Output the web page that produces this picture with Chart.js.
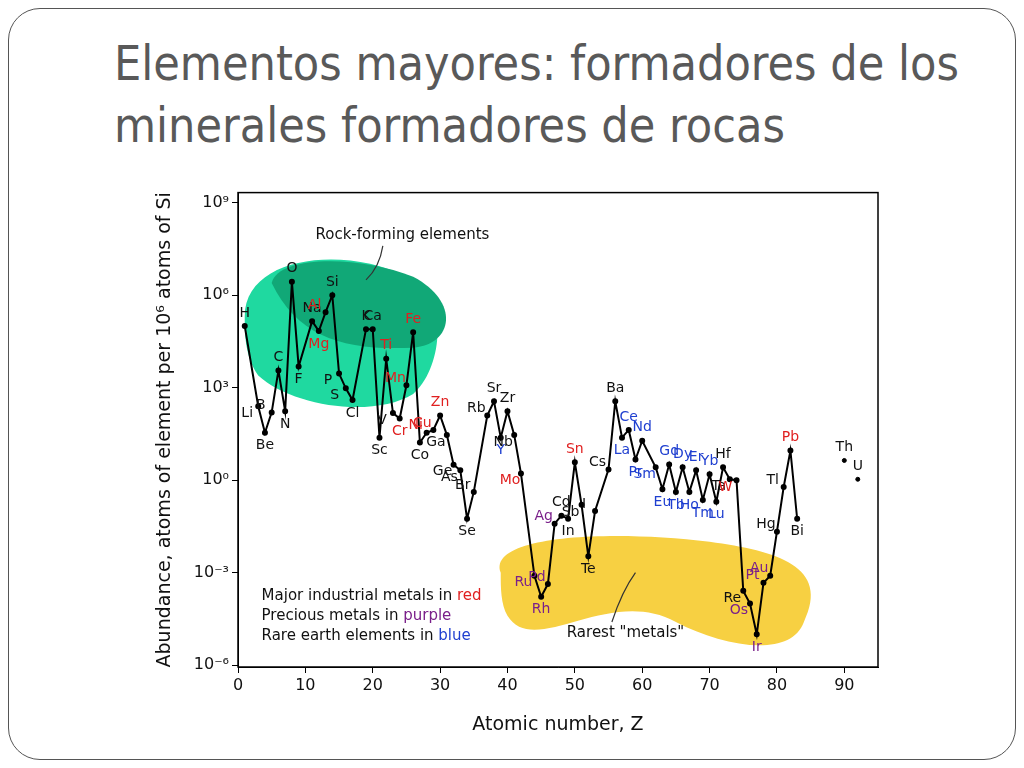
<!DOCTYPE html>
<html>
<head>
<meta charset="utf-8">
<script src="https://cdn.jsdelivr.net/npm/chart.js@4"></script>
<style>
  body { margin: 0; width: 1024px; height: 768px; background: #fff; position: relative; overflow: hidden; }
  #slide { position: absolute; left: 8px; top: 8px; width: 1006px; height: 750px; border: 1.5px solid #555; border-radius: 32px; }
  #title { position: absolute; left: 114px; top: 32px; font-family: "Liberation Sans Narrow", "DejaVu Sans Condensed", sans-serif; font-size: 48px; line-height: 62px; color: #595959; }
  #wrap { position: absolute; left: 150px; top: 180px; width: 740px; height: 560px; }
</style>
</head>
<body>
<div id="slide"></div>
<div id="title">Elementos mayores: formadores de los<br>minerales formadores de rocas</div>
<div id="wrap"><canvas id="grafico"></canvas></div>
<script>
// Dados (log10 da abundância por 10^6 átomos de Si)
const simbolos = ["H","Li","Be","B","C","N","O","F","Na","Mg","Al","Si","P","S","Cl","K","Ca","Sc","Ti","V","Cr","Mn","Fe","Co","Ni","Cu","Zn","Ga","Ge","As","Se","Br","Rb","Sr","Y","Zr","Nb","Mo","Ru","Rh","Pd","Ag","Cd","In","Sn","Sb","Te","I","Cs","Ba","La","Ce","Pr","Nd","Sm","Eu","Gd","Tb","Dy","Ho","Er","Tm","Yb","Lu","Hf","Ta","W","Re","Os","Ir","Pt","Au","Hg","Tl","Pb","Bi"];
const numeroZ = [1,3,4,5,6,7,8,9,11,12,13,14,15,16,17,19,20,21,22,23,24,25,26,27,28,29,30,31,32,33,34,35,37,38,39,40,41,42,44,45,46,47,48,49,50,51,52,53,55,56,57,58,59,60,62,63,64,65,66,67,68,69,70,71,72,73,74,75,76,77,78,79,80,81,82,83];
const logAbund = [5.0,2.4,1.54,2.2,3.56,2.24,6.44,3.69,5.16,4.84,5.45,6.0,3.46,2.98,2.6,4.9,4.9,1.38,3.94,2.18,2.0,3.08,4.8,1.22,1.54,1.63,2.1,1.47,0.5,0.32,-1.25,-0.38,2.1,2.56,1.38,2.24,1.47,0.22,-3.1,-3.78,-3.37,-1.41,-1.15,-1.25,0.58,-0.8,-2.47,-1.0,0.35,2.56,1.38,1.63,0.67,1.28,0.42,-0.29,0.51,-0.38,0.42,-0.38,0.32,-0.64,0.19,-0.7,0.42,0.03,0.0,-3.59,-4.0,-5.0,-3.33,-3.1,-1.67,-0.22,0.96,-1.25];
const simbolosSep = ["Th","U"];
const zSep = [90,92];
const logSep = [0.64,0.03];
const yTicks = [-6,-3,0,3,6,9];
const xTicks = [0,10,20,30,40,50,60,70,80,90];

const vermelhos = ["Mg","Al","Ti","Cr","Mn","Fe","Ni","Cu","Zn","Mo","Sn","W","Pb"];
const roxos = ["Ru","Rh","Pd","Ag","Os","Ir","Pt","Au"];
const azuis = ["Y","La","Ce","Pr","Nd","Sm","Eu","Gd","Tb","Dy","Ho","Er","Tm","Yb","Lu"];
function corDe(s) {
  if (vermelhos.includes(s)) return "#e02020";
  if (roxos.includes(s)) return "#7a1f8a";
  if (azuis.includes(s)) return "#1f3fd0";
  return "#111";
}
const sup = {"-":"⁻","0":"⁰","3":"³","6":"⁶","9":"⁹"};
function potencia(v) { return "10" + String(v).split("").map(c => sup[c]).join(""); }

// Manchas de fundo e textos
const fundo = {
  id: "fundo",
  beforeDatasetsDraw(chart) {
    const {ctx, scales: {x, y}} = chart;
    const P = (a, b) => [x.getPixelForValue(a), y.getPixelForValue(b)];
    ctx.save();
    // verde claro
    ctx.fillStyle = "#1fd9a0";
    ctx.beginPath();
    let p = P(1, 5.3); ctx.moveTo(...p);
    ctx.bezierCurveTo(...P(1, 7.3), ...P(16, 7.6), ...P(25, 6.6));
    ctx.bezierCurveTo(...P(32, 5.9), ...P(30, 3.5), ...P(26, 2.8));
    ctx.bezierCurveTo(...P(20, 2.0), ...P(8, 2.4), ...P(3, 3.4));
    ctx.bezierCurveTo(...P(1, 4.0), ...P(1, 4.8), ...p);
    ctx.fill();
    // verde escuro
    ctx.fillStyle = "#11a877";
    ctx.beginPath();
    p = P(5, 6.4); ctx.moveTo(...p);
    ctx.bezierCurveTo(...P(6, 7.3), ...P(18, 7.3), ...P(26, 6.6));
    ctx.bezierCurveTo(...P(33, 5.8), ...P(32, 4.4), ...P(26, 4.3));
    ctx.bezierCurveTo(...P(16, 4.2), ...P(9, 4.6), ...p);
    ctx.fill();
    // amarelo
    ctx.fillStyle = "#f7d042";
    ctx.beginPath();
    p = P(39, -3.0); ctx.moveTo(...p);
    ctx.bezierCurveTo(...P(37, -1.8), ...P(55, -1.6), ...P(70, -2.0));
    ctx.bezierCurveTo(...P(80, -2.3), ...P(88, -2.8), ...P(84, -4.6));
    ctx.bezierCurveTo(...P(82, -5.8), ...P(72, -5.4), ...P(65, -4.6));
    ctx.bezierCurveTo(...P(55, -3.4), ...P(44, -5.8), ...P(40, -4.4));
    ctx.bezierCurveTo(...P(39, -4.0), ...P(39, -3.5), ...p);
    ctx.fill();
    // textos
    ctx.fillStyle = "#111";
    ctx.font = "15px 'DejaVu Sans'";
    ctx.textAlign = "left";
    ctx.textBaseline = "middle";
    ctx.fillText("Rock-forming elements", ...P(11.5, 7.95));
    ctx.fillText('Rarest "metals"', ...P(48.8, -4.95));
    ctx.fillText("Major industrial metals in ", ...P(3.5, -3.75));
    ctx.fillText("Precious metals in ", ...P(3.5, -4.4));
    ctx.fillText("Rare earth elements in ", ...P(3.5, -5.05));
    ctx.fillStyle = "#e02020"; ctx.fillText("red", P(3.5, 0)[0] + ctx.measureText("Major industrial metals in ").width, P(0, -3.75)[1]);
    ctx.fillStyle = "#7a1f8a"; ctx.fillText("purple", P(3.5, 0)[0] + ctx.measureText("Precious metals in ").width, P(0, -4.4)[1]);
    ctx.fillStyle = "#1f3fd0"; ctx.fillText("blue", P(3.5, 0)[0] + ctx.measureText("Rare earth elements in ").width, P(0, -5.05)[1]);
    // setas
    ctx.strokeStyle = "#333"; ctx.lineWidth = 1.2;
    ctx.beginPath(); ctx.moveTo(...P(21.5, 7.6)); ctx.quadraticCurveTo(...P(21, 6.9), ...P(19, 6.5)); ctx.stroke();
    ctx.beginPath(); ctx.moveTo(...P(55.5, -4.6)); ctx.quadraticCurveTo(...P(57, -3.6), ...P(59, -3.0)); ctx.stroke();
    ctx.restore();
  },
  afterDatasetsDraw(chart) {
    const {ctx, chartArea: a, scales: {x, y}} = chart;
    ctx.save();
    ctx.strokeStyle = "#000"; ctx.lineWidth = 1.5;
    ctx.strokeRect(a.left, a.top, a.right - a.left, a.bottom - a.top);
    // rótulos dos elementos
    ctx.font = "14px 'DejaVu Sans'";
    ctx.textAlign = "center"; ctx.textBaseline = "middle";
    const rotular = (s, z, v, ant, seg) => {
      const px = x.getPixelForValue(z), py = y.getPixelForValue(v);
      let dy, dx;
      if ((ant === undefined || v >= ant) && (seg === undefined || v >= seg)) { dy = -13; dx = 0; }
      else if ((ant === undefined || v <= ant) && (seg === undefined || v <= seg)) { dy = 13; dx = 0; }
      else { dx = -11; dy = v > ant ? -7 : 7; }
      ctx.fillStyle = corDe(s);
      ctx.fillText(s, px + dx, py + dy);
    };
    simbolos.forEach((s, i) => rotular(s, numeroZ[i], logAbund[i], logAbund[i - 1], logAbund[i + 1]));
    simbolosSep.forEach((s, i) => rotular(s, zSep[i], logSep[i]));
    ctx.restore();
  }
};

new Chart(document.getElementById("grafico"), {
  type: "scatter",
  data: {
    datasets: [
      { data: numeroZ.map((z, i) => ({x: z, y: logAbund[i]})), showLine: true, borderColor: "#000", backgroundColor: "#000", borderWidth: 2, pointRadius: 2 },
      { data: zSep.map((z, i) => ({x: z, y: logSep[i]})), showLine: false, borderColor: "#000", backgroundColor: "#000", pointRadius: 2 }
    ]
  },
  plugins: [fundo],
  options: {
    responsive: true, maintainAspectRatio: false, animation: false,
    layout: { padding: { top: 7, right: 12 } },
    plugins: { legend: { display: false }, tooltip: { enabled: false } },
    scales: {
      x: {
        type: "linear", min: 0, max: 95,
        afterBuildTicks: s => { s.ticks = xTicks.map(v => ({value: v})); },
        afterFit: s => { s.height = 73; },
        grid: { drawOnChartArea: false, tickLength: 6, color: "#000" },
        border: { color: "#000" },
        ticks: { color: "#111", font: { size: 16, family: "DejaVu Sans" } },
        title: { display: true, text: "Atomic number, Z", color: "#111", font: { size: 19, family: "DejaVu Sans" } }
      },
      y: {
        type: "linear", min: -6.06, max: 9.33,
        afterBuildTicks: s => { s.ticks = yTicks.map(v => ({value: v})); },
        afterFit: s => { s.width = 88; },
        grid: { drawOnChartArea: false, tickLength: 6, color: "#000" },
        border: { color: "#000" },
        ticks: { color: "#111", font: { size: 16, family: "DejaVu Sans" }, callback: v => potencia(v) },
        title: { display: true, text: "Abundance, atoms of element per 10⁶ atoms of Si", color: "#111", font: { size: 19, family: "DejaVu Sans" } }
      }
    }
  }
});
</script>
</body>
</html>
